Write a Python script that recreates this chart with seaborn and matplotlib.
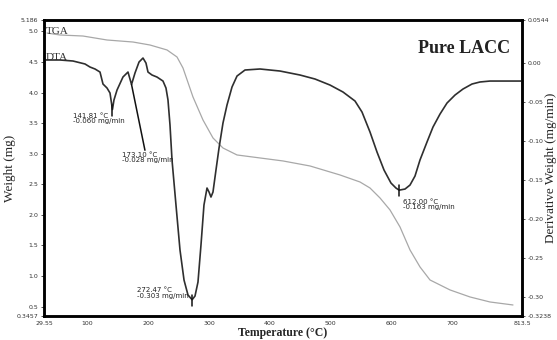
import numpy as np
import pandas as pd
import matplotlib
matplotlib.use("Agg")
import matplotlib.pyplot as plt
import seaborn as sns

# ---- data ----
tga_temp = [34.5, 55.8, 93.5, 132.9, 175.5, 203.4, 231.3, 247.7, 257.5, 273.9, 290.3,
            306.7, 323.1, 346.1, 383.8, 421.5, 465.8, 515.0, 547.8, 564.2, 580.6,
            597.0, 613.4, 629.8, 646.2, 662.6, 695.4, 728.2, 761.0, 798.7]
tga_weight = [4.973, 4.941, 4.924, 4.859, 4.826, 4.777, 4.696, 4.581, 4.401, 3.927, 3.551,
              3.257, 3.093, 2.979, 2.930, 2.881, 2.799, 2.652, 2.537, 2.439, 2.276,
              2.080, 1.802, 1.426, 1.148, 0.935, 0.772, 0.657, 0.575, 0.526]

dta_temp = [31.2, 55.8, 77.1, 96.8, 105.0, 113.2, 121.4, 126.3, 132.9, 137.8, 141.8,
            144.3, 149.3, 159.1, 167.3, 173.1, 178.8, 185.4, 191.9, 196.8, 200.1,
            206.7, 214.9, 224.7, 229.6, 232.9, 236.2, 239.5, 246.0, 252.6, 259.2,
            265.7, 272.5, 277.2, 282.1, 287.0, 291.9, 296.9, 300.2, 303.4, 306.7,
            311.6, 316.6, 323.1, 329.7, 337.9, 346.1, 359.2, 383.8, 416.6, 449.4,
            474.0, 498.6, 519.9, 539.6, 551.1, 564.2, 575.7, 587.2, 598.6, 606.8,
            612.0, 621.6, 629.8, 638.0, 646.2, 657.7, 667.5, 679.0, 690.5, 703.6,
            716.7, 731.5, 744.6, 761.0, 811.8]
dta_deriv = [0.0033, 0.0033, 0.0020, -0.0018, -0.0057, -0.0082, -0.0121, -0.0274, -0.0325, -0.0389, -0.060,
             -0.0478, -0.0351, -0.0184, -0.0121, -0.028, -0.0133, 0.0007, 0.0058, -0.0006, -0.0121,
             -0.0159, -0.0185, -0.0236, -0.0325, -0.0478, -0.0798, -0.1245, -0.1820, -0.2395, -0.2779,
             -0.2970, -0.303, -0.2983, -0.2804, -0.2332, -0.1820, -0.1603, -0.1654, -0.1718, -0.1654,
             -0.1373, -0.1092, -0.0772, -0.0542, -0.0312, -0.0172, -0.0095, -0.0082, -0.0108, -0.0159,
             -0.0210, -0.0287, -0.0376, -0.0491, -0.0632, -0.0887, -0.1143, -0.1373, -0.1539, -0.1603,
             -0.163, -0.1616, -0.1565, -0.1450, -0.1245, -0.1015, -0.0824, -0.0658, -0.0517, -0.0415,
             -0.0338, -0.0274, -0.0248, -0.0236, -0.0236]

peak_temp = [141.81, 173.10, 272.47, 612.00]
peak_deriv = [-0.060, -0.028, -0.303, -0.163]

x_ticks = [29.55, 100, 200, 300, 400, 500, 600, 700, 813.5]
x_tick_labels = ["29.55", "100", "200", "300", "400", "500", "600", "700", "813.5"]
left_ticks = [0.3457, 0.5, 1.0, 1.5, 2.0, 2.5, 3.0, 3.5, 4.0, 4.5, 5.0, 5.186]
left_tick_labels = ["0.3457", "0.5", "1.0", "1.5", "2.0", "2.5", "3.0", "3.5", "4.0", "4.5", "5.0", "5.186"]
right_ticks = [-0.3238, -0.30, -0.25, -0.20, -0.15, -0.10, -0.05, 0.00, 0.0544]
right_tick_labels = ["-0.3238", "-0.30", "-0.25", "-0.20", "-0.15", "-0.10", "-0.05", "0.00", "0.0544"]

tga_df = pd.DataFrame({"Temperature": tga_temp, "Weight": tga_weight})
dta_df = pd.DataFrame({"Temperature": dta_temp, "Deriv": dta_deriv})

sns.set_style("white")
plt.rcParams["font.family"] = ["DejaVu Sans"]

fig = plt.figure(figsize=(5.57, 3.40), dpi=100)
ax = fig.add_axes([44 / 557, 1 - 316 / 340, (522 - 44) / 557, (316 - 20) / 340])
ax2 = ax.twinx()

sns.lineplot(data=tga_df, x="Temperature", y="Weight", ax=ax, color="#a8a8a8",
             linewidth=0.9, estimator=None)
sns.lineplot(data=dta_df, x="Temperature", y="Deriv", ax=ax2, color="#2f2f2f",
             linewidth=1.2, estimator=None)

ax.set_xlim(x_ticks[0], x_ticks[-1])
ax.set_ylim(left_ticks[0], left_ticks[-1])
ax2.set_ylim(right_ticks[0], right_ticks[-1])

tick_font = dict(fontsize=4.5, color="#333333")
ax.set_xticks(x_ticks)
ax.set_xticklabels(x_tick_labels, **tick_font)
ax.set_yticks(left_ticks)
ax.set_yticklabels(left_tick_labels, **tick_font)
ax2.set_yticks(right_ticks)
ax2.set_yticklabels(right_tick_labels, **tick_font)
for a in (ax, ax2):
    a.tick_params(axis="both", which="both", direction="out", length=2, width=0.6,
                  pad=2, colors="#333333")
    a.tick_params(axis="x", pad=1.5)
    for s in a.spines.values():
        s.set_color("black")
        s.set_linewidth(1.8)

serif = ["Liberation Serif", "DejaVu Serif"]
ax.set_xlabel("Temperature (°C)", family=serif, fontsize=8.5, fontweight="bold")
ax.xaxis.set_label_coords(0.5, -0.038)
ax.set_ylabel("Weight (mg)", family=serif, fontsize=9.5)
ax.yaxis.set_label_coords(-0.058, 0.5)
ax2.set_ylabel("Derivative Weight (mg/min)", family=serif, fontsize=9.5, rotation=90)
ax2.yaxis.set_label_coords(1.048, 0.5)

ax.text(0.004, 0.975, "TGA", transform=ax.transAxes, family=serif, fontsize=8,
        color="#333333", va="top", ha="left")
ax.text(0.004, 0.89, "DTA", transform=ax.transAxes, family=serif, fontsize=8,
        color="#333333", va="top", ha="left")
ax.text(0.975, 0.905, "Pure LACC", transform=ax.transAxes, family=serif, fontsize=13,
        fontweight="bold", color="#222222", va="center", ha="right")

# peak annotations
ann_font = dict(fontsize=5, color="#222222", linespacing=0.9)
for i, (t, d) in enumerate(zip(peak_temp, peak_deriv)):
    label = f"{t:.2f} °C\n{d:.3f} mg/min"
    if i == 1:
        ax2.plot([t, t + 22], [d, d - 0.084], color="#111111", lw=1.1)
        ax2.text(t - 15, d - 0.086, label, ha="left", va="top", **ann_font)
    else:
        ax2.plot([t, t], [d + 0.006, d - 0.008], color="#111111", lw=1.1)
        if i == 0:
            ax2.text(t - 65, d - 0.004, label, ha="left", va="top", **ann_font)
        elif i == 2:
            ax2.text(t - 90, d + 0.016, label, ha="left", va="top", **ann_font)
        else:
            ax2.text(t + 7, d - 0.011, label, ha="left", va="top", **ann_font)

fig.savefig("out.png", dpi=100)
